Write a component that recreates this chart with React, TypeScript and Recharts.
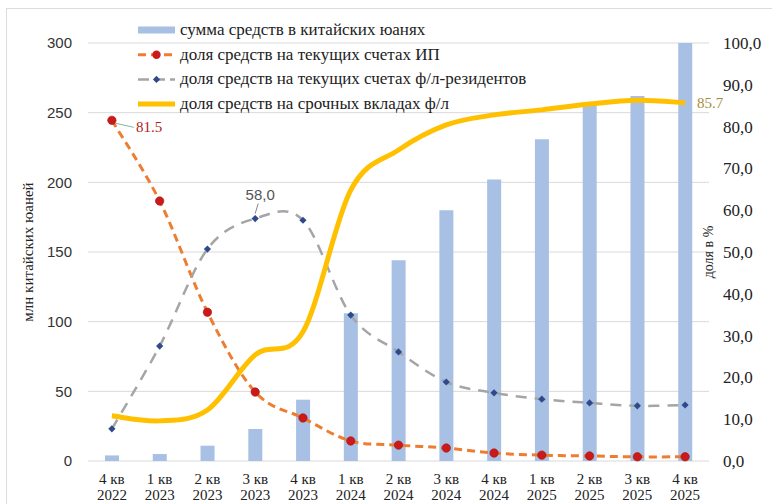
import React from 'react';
import { ComposedChart, Bar, Line, XAxis, YAxis, CartesianGrid, Legend, LabelList } from 'recharts';

const quarters = ['4 кв', '1 кв', '2 кв', '3 кв', '4 кв', '1 кв', '2 кв', '3 кв', '4 кв', '1 кв', '2 кв', '3 кв', '4 кв'];
const years = ['2022', '2023', '2023', '2023', '2023', '2024', '2024', '2024', '2024', '2025', '2025', '2025', '2025'];
const sumCny = [4, 5, 11, 23, 44, 106, 144, 180, 202, 231, 257, 262, 300];
const shareIP = [81.5, 62.2, 35.6, 16.5, 10.3, 4.8, 3.8, 3.1, 1.9, 1.4, 1.2, 1.0, 1.0];
const shareResidents = [7.7, 27.5, 50.7, 58.0, 57.6, 34.9, 26.1, 18.9, 16.3, 14.8, 13.9, 13.2, 13.4];
const shareDeposits = [10.8, 9.6, 12.2, 25.4, 30.9, 64.8, 74.4, 80.4, 82.8, 84.0, 85.4, 86.3, 85.7];
const leftTicks = [0, 50, 100, 150, 200, 250, 300];
const rightTicks = [0, 10, 20, 30, 40, 50, 60, 70, 80, 90, 100];
const legendNames = [
  'сумма средств в китайских юанях',
  'доля средств на текущих счетах ИП',
  'доля средств на текущих счетах ф/л-резидентов',
  'доля средств на срочных вкладах ф/л',
];

const data = quarters.map((q, i) => ({
  name: `${q} ${years[i]}`,
  q,
  y: years[i],
  sum: sumCny[i],
  ip: shareIP[i],
  res: shareResidents[i],
  dep: shareDeposits[i],
}));

const BAR = '#a7c0e4';
const ORANGE = '#ed7d31';
const RED = '#cc1a1a';
const GRAY = '#a5a5a5';
const NAVY = '#2e4a8a';
const YELLOW = '#ffc000';
const SERIF = '"Liberation Serif", "Times New Roman", serif';
const SANS = '"Liberation Sans", Arial, sans-serif';

function excelCurve(context: any) {
  let pts: number[][] = [];
  return {
    areaStart() {},
    areaEnd() {},
    lineStart() {
      pts = [];
    },
    lineEnd() {
      const n = pts.length;
      if (n === 0) return;
      context.moveTo(pts[0][0], pts[0][1]);
      const t = 1 / 6;
      for (let i = 0; i < n - 1; i++) {
        const p0 = pts[i - 1] || pts[i];
        const p1 = pts[i];
        const p2 = pts[i + 1];
        const p3 = pts[i + 2] || p2;
        context.bezierCurveTo(
          p1[0] + (p2[0] - p0[0]) * t,
          p1[1] + (p2[1] - p0[1]) * t,
          p2[0] - (p3[0] - p1[0]) * t,
          p2[1] - (p3[1] - p1[1]) * t,
          p2[0],
          p2[1]
        );
      }
    },
    point(x: number, y: number) {
      pts.push([+x, +y]);
    },
  };
}

const XTick = (props: any) => {
  const { x, y, index } = props;
  return (
    <text x={x} y={y} textAnchor="middle" style={{ fontFamily: SERIF }} fontSize={15} fill="#222">
      <tspan x={x} dy={15}>{quarters[index]}</tspan>
      <tspan x={x} dy={16}>{years[index]}</tspan>
    </text>
  );
};

const RedDot = (props: any) => {
  const { cx, cy } = props;
  if (cx == null || cy == null) return null;
  return <circle cx={cx} cy={cy} r={4.2} fill={RED} stroke="#a01010" strokeWidth={0.6} />;
};

const Diamond = (props: any) => {
  const { cx, cy } = props;
  if (cx == null || cy == null) return null;
  const s = 3.6;
  return <polygon points={`${cx},${cy - s} ${cx + s},${cy} ${cx},${cy + s} ${cx - s},${cy}`} fill={NAVY} />;
};

const IpLabel = (props: any) => {
  const { x, y, index, value } = props;
  if (index !== 0) return null;
  return (
    <g>
      <line x1={x + 4} y1={y + 3} x2={x + 22} y2={y + 7} stroke="#7fb3b3" strokeWidth={1} />
      <text x={x + 24} y={y + 12} style={{ fontFamily: SERIF }} fontSize={15} fill="#b01c1c">
        {String(value).replace(',', '.')}
      </text>
    </g>
  );
};

const ResLabel = (props: any) => {
  const { x, y, index, value } = props;
  if (index !== 3) return null;
  return (
    <g>
      <line x1={x} y1={y - 5} x2={x + 3} y2={y - 15} stroke="#888" strokeWidth={1} />
      <text x={x + 5} y={y - 19} textAnchor="middle" style={{ fontFamily: SANS }} fontSize={15} fill="#555">
        {Number(value).toFixed(1).replace('.', ',')}
      </text>
    </g>
  );
};

const DepLabel = (props: any) => {
  const { x, y, index, value } = props;
  if (index !== data.length - 1) return null;
  return (
    <text x={x + 12} y={y + 5} style={{ fontFamily: SERIF }} fontSize={15} fill="#a88c3c">
      {Number(value).toFixed(1)}
    </text>
  );
};

const LegendContent = () => {
  const rowH = 24.7;
  const W = 560;
  return (
    <svg width={W} height={110} style={{ display: 'block', overflow: 'visible' }}>
      {legendNames.map((name, i) => {
        const cy = 12 + i * rowH;
        let icon: React.ReactNode = null;
        if (i === 0) icon = <rect x={0} y={cy - 3.5} width={37} height={7} fill={BAR} />;
        if (i === 1)
          icon = (
            <g>
              <line x1={0} y1={cy} x2={37} y2={cy} stroke={ORANGE} strokeWidth={3} strokeDasharray="8 5" />
              <circle cx={18.5} cy={cy} r={4.2} fill={RED} />
            </g>
          );
        if (i === 2)
          icon = (
            <g>
              <line x1={0} y1={cy} x2={37} y2={cy} stroke={GRAY} strokeWidth={2.5} strokeDasharray="11 5" />
              <polygon points={`18.5,${cy - 3.6} 22.1,${cy} 18.5,${cy + 3.6} 14.9,${cy}`} fill={NAVY} />
            </g>
          );
        if (i === 3) icon = <line x1={0} y1={cy} x2={37} y2={cy} stroke={YELLOW} strokeWidth={5} />;
        return (
          <g key={i}>
            {icon}
            <text x={42} y={cy + 5} style={{ fontFamily: SERIF }} fontSize={17} fill="#222">
              {name}
            </text>
          </g>
        );
      })}
    </svg>
  );
};

export default function App() {
  return (
    <div style={{ position: 'absolute', left: 0, top: 0, width: 772, height: 504, overflow: 'hidden', background: '#fff' }}>
      <div
        style={{
          position: 'absolute',
          left: 6,
          top: 8,
          width: 800,
          height: 600,
          border: '1px solid #dcdcdc',
          boxSizing: 'border-box',
        }}
      />
      <div style={{ position: 'absolute', left: 0, top: 0 }}>
        <ComposedChart width={772} height={504} data={data} margin={{ top: 43, right: 0, bottom: 0, left: 0 }}>
          <CartesianGrid yAxisId="left" vertical={false} stroke="#d9d9d9" strokeWidth={1} />
          <XAxis
            dataKey="name"
            interval={0}
            height={43}
            axisLine={false}
            tickLine={false}
            tick={<XTick />}
          />
          <YAxis
            yAxisId="left"
            orientation="left"
            width={88}
            domain={[0, 300]}
            ticks={leftTicks}
            axisLine={false}
            tickLine={false}
            tickMargin={10}
            tick={{ fontFamily: SANS, fontSize: 15, fill: '#333' }}
            label={{
              value: 'млн китайских юаней',
              angle: -90,
              position: 'insideLeft',
              offset: 0,
              dx: 28,
              style: { fontFamily: SERIF, fontSize: 15, fill: '#222', textAnchor: 'middle' },
            }}
          />
          <YAxis
            yAxisId="right"
            orientation="right"
            width={63}
            domain={[0, 100]}
            ticks={rightTicks}
            axisLine={false}
            tickLine={false}
            tickMargin={8}
            tickFormatter={(v: number) => v.toFixed(1).replace('.', ',')}
            tick={{ fontFamily: SERIF, fontSize: 17, fill: '#222', textAnchor: 'start' }}
            label={{
              value: 'доля в %',
              angle: -90,
              position: 'insideLeft',
              offset: 0,
              dx: -1,
              style: { fontFamily: SERIF, fontSize: 14, fill: '#222', textAnchor: 'middle' },
            }}
          />
          <Legend
            layout="horizontal"
            verticalAlign="middle"
            align="center"
            wrapperStyle={{ position: 'absolute', top: 18, left: 138, width: 560, height: 110 }}
            content={<LegendContent />}
          />
          <Bar yAxisId="left" dataKey="sum" name={legendNames[0]} fill={BAR} barSize={14} isAnimationActive={false} />
          <Line
            yAxisId="right"
            dataKey="ip"
            name={legendNames[1]}
            type={excelCurve as any}
            stroke={ORANGE}
            strokeWidth={3}
            strokeDasharray="8 5"
            dot={<RedDot />}
            activeDot={false}
            isAnimationActive={false}
          >
            <LabelList dataKey="ip" content={<IpLabel />} />
          </Line>
          <Line
            yAxisId="right"
            dataKey="res"
            name={legendNames[2]}
            type={excelCurve as any}
            stroke={GRAY}
            strokeWidth={2.5}
            strokeDasharray="11 8"
            dot={<Diamond />}
            activeDot={false}
            isAnimationActive={false}
          >
            <LabelList dataKey="res" content={<ResLabel />} />
          </Line>
          <Line
            yAxisId="right"
            dataKey="dep"
            name={legendNames[3]}
            type={excelCurve as any}
            stroke={YELLOW}
            strokeWidth={5}
            dot={false}
            activeDot={false}
            isAnimationActive={false}
          >
            <LabelList dataKey="dep" content={<DepLabel />} />
          </Line>
        </ComposedChart>
      </div>
    </div>
  );
}
